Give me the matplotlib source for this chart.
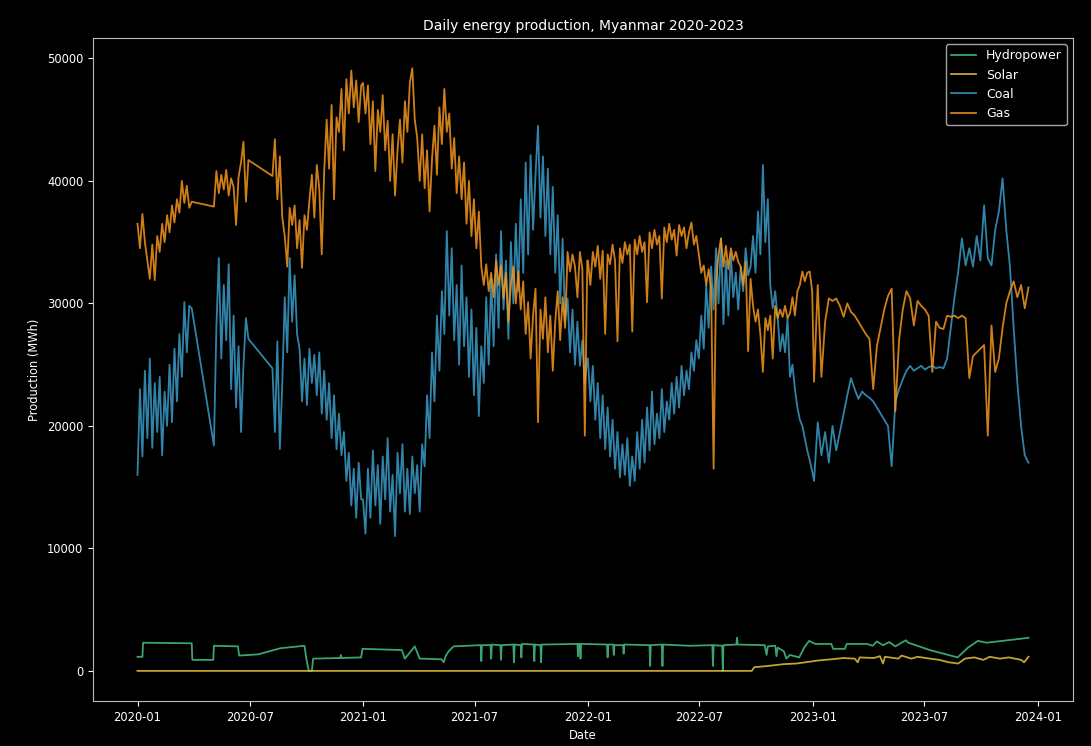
import pandas as pd
import matplotlib
matplotlib.use('Agg')
import matplotlib.pyplot as plt

# Sampling blocks for the thermal series (gaps in the record left out)
blocks_2020 = [('2020-01-01', 23), ('2020-05-04', 15), ('2020-08-07', 37)]
start_2021, n_2021 = '2021-01-01', 92
start_2022, n_2022 = '2022-01-01', 92
start_2023, n_2023 = '2023-01-03', 59

gas_2020 = [
    36500, 34500, 37300, 35000, 33500, 32000, 34800, 31900, 35500, 34200,
    36500, 35000, 37200, 35800, 38000, 36600, 38500, 37400, 40000, 38200,
    39600, 37800, 38300,
    37900, 40800, 39000, 40500, 39300, 40900, 38800, 40200, 39500, 36400,
    40300, 41500, 43200, 38300, 41700,
    40400, 43400, 38500, 42000, 37000, 35500, 33000, 37800, 36400, 38000,
    34500, 36800, 32900, 37200, 36000, 38400, 40500, 37000, 41300, 39400,
    34000, 40800, 45000, 41000, 46200, 38500, 45200, 44000, 47500, 42500,
    48300, 45500, 49000, 46000, 48200, 44800, 47800,
]
coal_2020 = [
    16000, 23000, 17500, 24500, 19000, 25500, 18200, 23500, 19500, 24000,
    17600, 22800, 20000, 25000, 20300, 26300, 22000, 27500, 24000, 30100,
    26000, 29800, 29600,
    18400, 28000, 33700, 25500, 31500, 27000, 33200, 23000, 29000, 21500,
    26500, 19500, 25000, 28800, 27100,
    24700, 19500, 26900, 18100, 23500, 30500, 26000, 33700, 28500, 32300,
    27500, 26300, 22000, 25500, 21700, 26300, 23500, 25800, 22500, 26000,
    21000, 24500, 20500, 23500, 19000, 22500, 18100, 21000, 17600, 19500,
    15500, 17800, 13500, 16500, 12500, 17000, 14000,
]

gas_2021 = [
    48000, 45500, 47800, 43000, 46500, 40800, 45800, 44000, 47000, 42500,
    44900, 40000, 43800, 38800, 42500, 45000, 41500, 46500, 44000, 48000,
    49200, 45000, 43500, 40000, 43800, 39400, 42500, 37500, 41800, 44500,
    40500, 46000, 43000, 47500, 44000, 45500, 41000, 43500, 39000, 42000,
    38500, 41500, 36500, 40000, 35500, 38500, 34500, 37500, 33000, 31500,
    33200, 31000, 32500, 30500, 33500, 31500, 33100, 30400, 32500, 28500,
    31500, 33000, 30000, 32600, 29500, 31800, 27500, 30100, 25500, 29000,
    31200, 20300, 29500, 27100, 30500, 26000, 29000, 24500, 28500, 31000,
    27000, 30500, 28000, 34200, 32600, 34000, 33000, 30500, 34200, 32800,
    19200, 33500,
]
coal_2021 = [
    14000, 11200, 16500, 12500, 18000, 13500, 16800, 12000, 17500, 14000,
    19000, 13000, 16000, 11000, 17800, 14500, 18500, 13000, 16500, 12800,
    17500, 14500, 16800, 13000, 18500, 16700, 22500, 19000, 26000, 22000,
    29000, 24500, 31000, 27500, 35900, 29000, 34500, 27000, 31500, 25000,
    33100, 26500, 30500, 24000, 29500, 22500, 28000, 20800, 26500, 23500,
    30500, 25000, 32000, 26500, 34000, 28000, 35900, 29500, 33500, 27100,
    35000, 30000, 36500, 31000, 38500, 32500, 41500, 34000, 42100, 36000,
    40500, 44500, 37000, 42000, 35500, 41000, 34000, 39500, 32500, 37200,
    30000, 35300, 28500, 30400, 26000, 29500, 25000, 28500, 24900, 27000,
    23500, 25500,
]

gas_2022 = [
    33500, 31500, 34200, 33000, 34700, 32000, 34300, 27500, 34000, 33200,
    34800, 33500, 26900, 34500, 33300, 35000, 34000, 34800, 27700, 35200,
    34000, 35500, 34200, 35000, 30100, 35800, 34500, 36000, 34800, 35500,
    30400, 36200, 35000, 36500, 35200, 36000, 33900, 36400, 35500, 36200,
    34500, 35800, 36600, 34800, 35500, 34000, 32500, 33100, 31500, 32800,
    31200, 16500, 31800, 34000, 35300, 33000, 34700, 32800, 34500, 33500,
    34200, 33400, 33000, 31500, 33400, 26100, 32000, 29800, 28500, 29500,
    27400, 24400, 28800, 27800, 29000, 25500, 29800, 28800, 29500, 28900,
    29800, 28800, 29200, 30500, 29000, 31000, 31500, 32600, 31800, 32500,
    32600, 31000,
]
coal_2022 = [
    25500, 22000, 24900, 20500, 23500, 19000, 22500, 18100, 21500, 17500,
    20500, 16500, 19500, 15800, 18500, 16000, 19000, 15100, 17500, 15500,
    19500, 16500, 20500, 17000, 21500, 18000, 22800, 18500, 21000, 19000,
    23000, 19500, 22000, 20500, 23500, 21000, 24000, 21500, 24900, 22500,
    24500, 23000, 26000, 24500, 27000, 25500, 29000, 26300, 31500, 28000,
    33000, 29500, 34500, 30000, 35300, 28300, 33500, 29000, 34000, 30500,
    32500, 29500, 33000, 31000, 34500, 32300, 33000, 35500, 32500, 37500,
    34000, 41300, 35000, 38500, 31500, 29600, 31000, 28800, 26100, 27500,
    26000, 28800, 24000, 25000, 23000, 21500, 20500, 20000, 19000, 18000,
    17200, 16300,
]

gas_2023 = [
    23600, 31500, 24000, 28500, 30400, 30200, 30400, 29800, 28900, 30000,
    29300, 29000, 28500, 28000, 27500, 27100, 23000, 26500, 28000, 29500,
    30600, 31200, 21200, 27000, 29500, 31000, 30400, 28200, 30200, 29800,
    29500, 29000, 24400, 28500, 28000, 27900, 29000, 28900, 29000, 28800,
    29000, 28800, 23900, 25700, 26000, 26300, 26600, 19200, 28200, 24400,
    25500, 28000, 30000, 31000, 31800, 30500, 31500, 29600, 31300,
]
coal_2023 = [
    15500, 20300, 17600, 19500, 17000, 20000, 18000, 19500, 21000, 22500,
    23900, 23000, 22200, 22800, 22500, 22300, 22000, 21500, 21000, 20500,
    20000, 16700, 22000, 23000, 23800, 24500, 24900, 24500, 24700, 24900,
    24600, 24800, 24900, 24700, 24800, 24700, 25500, 28000, 30500, 32600,
    35300, 33100, 34500, 33000, 35500, 33500, 38000, 33700, 33100, 36000,
    37500, 40200, 36000, 33000, 28000, 23500, 20000, 17600, 17000,
]

hydro_dates = [
    '2020-01-01', '2020-01-09', '2020-01-10', '2020-03-29', '2020-03-30',
    '2020-05-03', '2020-05-04', '2020-06-12', '2020-06-14', '2020-07-15',
    '2020-08-20', '2020-09-28', '2020-10-01', '2020-10-05', '2020-10-10',
    '2020-10-12', '2020-11-25', '2020-11-26', '2020-11-27', '2020-12-29',
    '2020-12-31', '2021-03-05', '2021-03-10', '2021-03-26', '2021-04-03',
    '2021-05-08', '2021-05-12', '2021-05-15', '2021-05-20', '2021-05-28',
    '2021-07-11', '2021-07-12', '2021-07-13', '2021-07-27', '2021-07-28',
    '2021-07-29', '2021-08-12', '2021-08-13', '2021-08-14', '2021-09-02',
    '2021-09-03', '2021-09-04', '2021-09-14', '2021-09-15', '2021-09-16',
    '2021-10-05', '2021-10-06', '2021-10-07', '2021-10-16', '2021-10-17',
    '2021-10-18', '2021-12-15', '2021-12-16', '2021-12-17', '2021-12-19',
    '2021-12-20', '2021-12-21', '2022-02-01', '2022-02-02', '2022-02-03',
    '2022-02-11', '2022-02-12', '2022-02-13', '2022-02-27', '2022-02-28',
    '2022-03-01', '2022-04-11', '2022-04-12', '2022-04-13', '2022-05-01',
    '2022-05-02', '2022-05-03', '2022-06-15', '2022-07-22', '2022-07-23',
    '2022-07-24', '2022-08-07', '2022-08-08', '2022-08-09', '2022-08-30',
    '2022-08-31', '2022-09-01', '2022-10-15', '2022-10-18', '2022-10-20',
    '2022-11-01', '2022-11-03', '2022-11-05', '2022-11-15', '2022-11-19',
    '2022-11-25', '2022-12-10', '2022-12-18', '2022-12-26', '2023-01-05',
    '2023-01-31', '2023-02-03', '2023-02-22', '2023-02-25', '2023-03-30',
    '2023-04-08', '2023-04-15', '2023-04-25', '2023-05-05', '2023-05-15',
    '2023-05-25', '2023-06-01', '2023-06-05', '2023-07-10', '2023-08-24',
    '2023-09-10', '2023-09-26', '2023-10-10', '2023-11-05', '2023-12-17',
]
hydro_mwh = [
    1150, 1150, 2300, 2250, 900,
    900, 2050, 2000, 1250, 1350,
    1850, 2050, 1000, 0, 0,
    1000, 1050, 1300, 1050, 1100,
    1800, 1700, 1000, 2000, 1000,
    950, 700, 1200, 1600, 2000,
    2100, 800, 2100, 2100, 1000,
    2150, 2100, 900, 2100, 2150,
    700, 2150, 2100, 1100, 2200,
    2150, 800, 2150, 2100, 700,
    2150, 2200, 1200, 2200, 2200,
    1000, 2200, 2150, 1100, 2150,
    2150, 1300, 2100, 2100, 1400,
    2150, 2100, 400, 2100, 2150,
    400, 2150, 2050, 2100, 400,
    2100, 2050, 0, 2100, 2150,
    2700, 2150, 2100, 1300, 2000,
    2050, 1200, 1900, 1600, 1000,
    1300, 1100, 1900, 2450, 2200,
    2200, 1800, 1800, 2200, 2200,
    2050, 2400, 2100, 2350, 2000,
    2300, 2500, 2300, 1700, 1100,
    1900, 2450, 2300, 2450, 2700,
]

solar_dates = [
    '2020-01-01', '2022-09-24', '2022-09-28', '2022-10-20', '2022-11-15',
    '2022-12-05', '2022-12-20', '2023-01-10', '2023-02-01', '2023-02-20',
    '2023-03-10', '2023-03-15', '2023-03-18', '2023-04-10', '2023-04-20',
    '2023-04-25', '2023-04-28', '2023-05-20', '2023-05-25', '2023-06-10',
    '2023-06-20', '2023-07-10', '2023-07-25', '2023-08-10', '2023-08-25',
    '2023-09-05', '2023-09-20', '2023-10-05', '2023-10-15', '2023-11-01',
    '2023-11-15', '2023-12-05', '2023-12-10', '2023-12-17',
]
solar_mwh = [
    0, 0, 300, 400, 550,
    600, 700, 850, 950, 1050,
    1000, 700, 1100, 1050, 1200,
    600, 1150, 1000, 1250, 1000,
    1150, 1000, 900, 700, 600,
    1000, 1100, 900, 1150, 1000,
    1100, 900, 700, 1150,
]

# Build the date index of the thermal series
thermal_dates = []
for start, n in blocks_2020:
    thermal_dates += list(pd.date_range(start, periods=n, freq='4D'))
thermal_dates += list(pd.date_range(start_2021, periods=n_2021, freq='4D'))
thermal_dates += list(pd.date_range(start_2022, periods=n_2022, freq='4D'))
thermal_dates += list(pd.date_range(start_2023, periods=n_2023, freq='6D'))

coal = coal_2020 + coal_2021 + coal_2022 + coal_2023
gas = gas_2020 + gas_2021 + gas_2022 + gas_2023

plt.style.use('dark_background')
plt.rcParams['font.family'] = ['DejaVu Sans']
plt.rcParams['font.size'] = 8.3

fig = plt.figure(figsize=(10.91, 7.46), dpi=100)
ax = fig.add_axes([0.0852, 0.0603, 0.8983, 0.8887])

ax.plot(pd.to_datetime(hydro_dates), hydro_mwh, color='#45c283', lw=1.3, alpha=0.85, label='Hydropower')
ax.plot(pd.to_datetime(solar_dates), solar_mwh, color='#e3c23c', lw=1.3, alpha=0.85, label='Solar')
ax.plot(thermal_dates, coal, color='#3a9cc8', lw=1.3, alpha=0.85, label='Coal')
ax.plot(thermal_dates, gas, color='#f5961c', lw=1.3, alpha=0.85, label='Gas')

for side in ax.spines.values():
    side.set_color('#bbbbbb')

ax.set_title('Daily energy production, Myanmar 2020-2023', fontsize=10)
ax.set_xlabel('Date')
ax.set_ylabel('Production (MWh)')
ax.legend(loc='upper right', fontsize=9)

fig.savefig('out.png', dpi=100)
